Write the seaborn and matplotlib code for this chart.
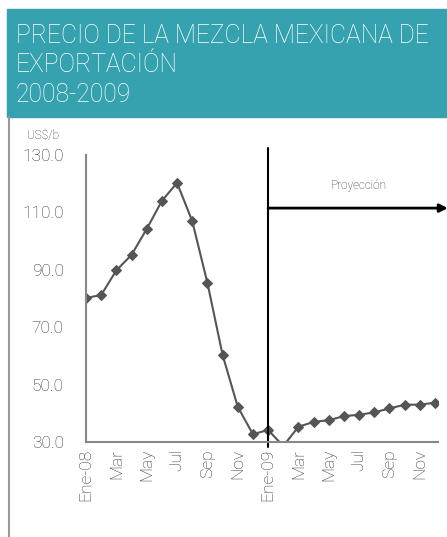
import matplotlib
matplotlib.use("Agg")
import matplotlib.pyplot as plt
import seaborn as sns
import pandas as pd
import numpy as np

# Monthly price, US$ per barrel (2008 observed, 2009 projection)
months = ["Ene-08", "Feb", "Mar", "Abr", "May", "Jun", "Jul", "Ago", "Sep", "Oct", "Nov", "Dic",
          "Ene-09", "Feb", "Mar", "Abr", "May", "Jun", "Jul", "Ago", "Sep", "Oct", "Nov", "Dic"]
price = [80.2, 81.2, 89.8, 95.2, 104.2, 114.0, 120.3, 107.0, 85.5, 60.4, 42.3, 32.7,
         34.2, 28.6, 35.3, 37.0, 37.6, 39.0, 39.5, 40.3, 41.7, 43.0, 43.0, 43.7]
tick_labels = ["Ene-08", "Mar", "May", "Jul", "Sep", "Nov",
               "Ene-09", "Mar", "May", "Jul", "Sep", "Nov"]
y_ticks = [30, 50, 70, 90, 110, 130]

df = pd.DataFrame({"idx": np.arange(len(months)), "price": price})

sns.set_style("white")
plt.rcParams["font.family"] = ["Roboto", "DejaVu Sans"]
plt.rcParams["font.weight"] = "light"

fig = plt.figure(figsize=(4.47, 5.37), dpi=100)

# header box
teal = "#36A2B0"
fig.patches.append(plt.Rectangle((7 / 447, 1 - 117 / 537), 440 / 447, 108 / 537,
                                 transform=fig.transFigure, color=teal, zorder=0))
# left rule
fig.add_artist(plt.Line2D([9 / 447, 9 / 447], [0, 1 - 117 / 537], transform=fig.transFigure,
                          color="#999999", lw=1.5))
title_kw = dict(color="white", fontsize=17.7, fontweight="light", va="baseline", ha="left")
fig.text(16 / 447, 1 - 43 / 537, "PRECIO DE LA MEZCLA MEXICANA DE", **title_kw)
fig.text(16 / 447, 1 - 72 / 537, "EXPORTACIÓN", **title_kw)
fig.text(16 / 447, 1 - 102 / 537, "2008-2009", **title_kw)

ax = fig.add_axes([86 / 447, 1 - 442 / 537, 352 / 447, 287 / 537])
sns.lineplot(data=df, x="idx", y="price", ax=ax, color="#555555", lw=1.5,
             marker="D", markersize=5, markeredgecolor="#555555")

ax.set_xlim(0, 23.2)
ax.set_ylim(30, 130)
ax.set_yticks(y_ticks)
ax.set_yticklabels([f"{v:.1f}" for v in y_ticks], fontsize=12.5, color="#333333")
ax.set_xticks(range(0, 24, 2))
ax.set_xticklabels(tick_labels, rotation=90, fontsize=12.5, color="#333333")
ax.tick_params(axis="x", length=0, pad=5)
ax.set_xticks([11, 22], minor=True)
ax.tick_params(axis="x", which="minor", length=4, direction="out", color="#888888", width=1.5)
ax.tick_params(axis="y", length=10, direction="inout", color="#888888", width=1.5, pad=11)
ax.set_xlabel("")
ax.set_ylabel("")
for side in ("top", "right"):
    ax.spines[side].set_visible(False)
for side in ("left", "bottom"):
    ax.spines[side].set_color("#888888")
    ax.spines[side].set_linewidth(1.5)

# projection marker
ax.axvline(12, ymin=-0.017, ymax=1.024, color="black", lw=1.5, clip_on=False)
ax.annotate("", xy=(23.85, 111.5), xytext=(12, 111.5), annotation_clip=False,
            arrowprops=dict(arrowstyle="-|>", color="black", lw=2, mutation_scale=12,
                            shrinkA=0, shrinkB=0))
ax.text(18, 119.2, "Proyección", ha="center", va="center", fontsize=8.5, color="#333333")

fig.text(43.5 / 447, 1 - 135 / 537, "US$/b", ha="center", va="center", fontsize=8.5,
         color="#333333")

fig.savefig("out.png", dpi=100)
